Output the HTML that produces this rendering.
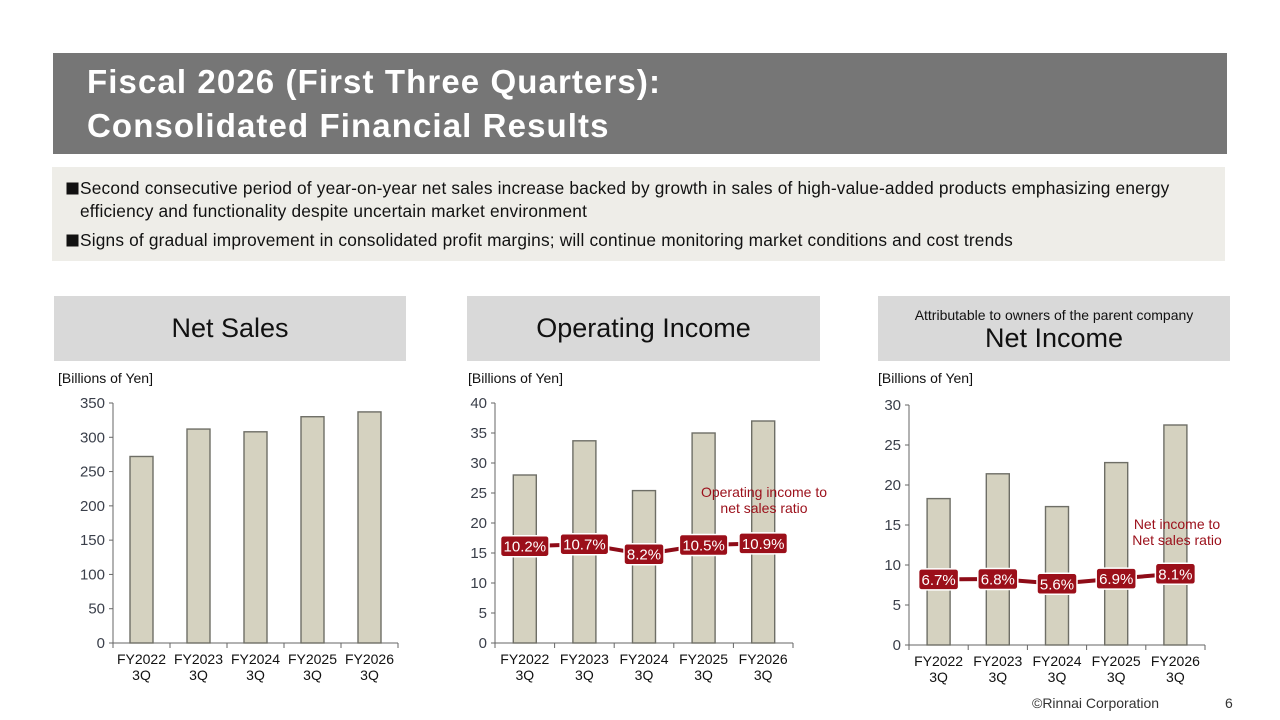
<!DOCTYPE html>
<html><head><meta charset="utf-8"><style>
body{margin:0;width:1280px;height:720px;background:#fff;font-family:"Liberation Sans",Arial,sans-serif;position:relative;overflow:hidden}
.hdr{position:absolute;left:53px;top:53px;width:1174px;height:101px;background:#767676;color:#fff;font-weight:bold;font-size:33px;letter-spacing:1.1px;line-height:44px;box-sizing:border-box;padding:7px 0 0 34px}
.sum{position:absolute;left:52px;top:167px;width:1173px;height:94px;background:#eeede8;font-size:17.3px;letter-spacing:0.18px;color:#111;box-sizing:border-box;padding:10px 20px 0 13px;line-height:23px}
.sum p{margin:0 0 6px 0;padding-left:15px;text-indent:-15px}
.sq{font-family:"Noto Sans CJK JP",sans-serif;font-size:15px;letter-spacing:0}
.tb{position:absolute;top:296px;height:65px;background:#d9d9d9;text-align:center;color:#111}
.unit{position:absolute;top:370px;font-size:14px;color:#111}
svg{position:absolute;left:0;top:0}
.foot{position:absolute;top:695px;font-size:14px;color:#333}
</style></head><body>
<div class="hdr">Fiscal 2026 (First Three Quarters):<br>Consolidated Financial Results</div>
<div class="sum">
<p><span class="sq">■</span>Second consecutive period of year-on-year net sales increase backed by growth in sales of high-value-added products emphasizing energy efficiency and functionality despite uncertain market environment</p>
<p><span class="sq">■</span>Signs of gradual improvement in consolidated profit margins; will continue monitoring market conditions and cost trends</p></div>
<div class="tb" style="left:54px;width:352px;font-size:27px;line-height:65px">Net Sales</div>
<div class="tb" style="left:467px;width:353px;font-size:27px;line-height:65px">Operating Income</div>
<div class="tb" style="left:878px;width:352px"><div style="font-size:14px;margin-top:11px">Attributable to owners of the parent company</div><div style="font-size:27px;margin-top:0px">Net Income</div></div>
<div class="unit" style="left:58px">[Billions of Yen]</div>
<div class="unit" style="left:468px">[Billions of Yen]</div>
<div class="unit" style="left:878px">[Billions of Yen]</div>
<div class="foot" style="left:1032px">©Rinnai Corporation</div>
<div class="foot" style="left:1225px">6</div>
<svg id="chart" width="1280" height="720"></svg>
<script>
const categories=["FY2022","FY2023","FY2024","FY2025","FY2026"];
const salesValues=[272,312,308,330,337];
const opIncomeValues=[28,33.7,25.4,35,37];
const opRatio=[10.2,10.7,8.2,10.5,10.9];
const netIncomeValues=[18.3,21.4,17.3,22.8,27.5];
const netRatio=[6.7,6.8,5.6,6.9,8.1];
const salesTicks=[0,50,100,150,200,250,300,350];
const opTicks=[0,5,10,15,20,25,30,35,40];
const niTicks=[0,5,10,15,20,25,30];
const NS="http://www.w3.org/2000/svg";
const svg=document.getElementById('chart');
function mk(t,a,p){const e=document.createElementNS(NS,t);for(const k in a)e.setAttribute(k,a[k]);(p||svg).appendChild(e);return e;}
function chart(cfg){
 const g=mk('g',{});
 
 
 const {x0,x1,y0,y1,max}=cfg;
 const ys=v=>y0-(v/max)*(y0-y1);
 const step=(x1-x0)/categories.length;
 const xs=i=>x0+step*(i+0.5);
 mk('line',{x1:x0,y1:y0,x2:x0,y2:y1,stroke:'#666','stroke-width':1},g);
 mk('line',{x1:x0,y1:y0,x2:x1,y2:y0,stroke:'#666','stroke-width':1},g);
 cfg.ticks.forEach(t=>{
  mk('line',{x1:x0-4,y1:ys(t),x2:x0,y2:ys(t),stroke:'#666'},g);
  const tx=mk('text',{x:x0-8,y:ys(t)+5,'text-anchor':'end','font-size':15,fill:'#3a3f4a'},g);tx.textContent=t;
  
  
 });
 for(let i=0;i<=categories.length;i++)mk('line',{x1:x0+step*i,y1:y0,x2:x0+step*i,y2:y0+5,stroke:'#666'},g);
 cfg.values.forEach((v,i)=>{
  const r=mk('rect',{x:xs(i)-11.5,y:ys(v),width:23,height:y0-ys(v),fill:'#d5d2c0',stroke:'#6e6e66','stroke-width':1.4},g);
  
  
 });
 categories.forEach((c,i)=>{
  const t=mk('text',{x:xs(i),y:y0+21,'text-anchor':'middle','font-size':14,fill:'#111'},g);t.textContent=c;
  
  
  const q=mk('text',{x:xs(i),y:y0+37,'text-anchor':'middle','font-size':14,fill:'#111'},g);q.textContent='3Q';
  
  
 });
 if(cfg.ratio){
  const rs=v=>y0-(v-cfg.rmin)/60*(y0-y1);
  const pts=cfg.ratio.map((v,i)=>xs(i)+','+rs(v)).join(' ');
  const pl=mk('polyline',{points:pts,fill:'none',stroke:'#8e0c18','stroke-width':4},g);
  
  
  cfg.ratio.forEach((v,i)=>{
   const s=v.toFixed(1)+'%';const w=s.length*8.5+6;
   const b=mk('rect',{x:xs(i)-w/2,y:rs(v)-10.5,width:w,height:21,rx:3,fill:'#9b0f1a',stroke:'#fff','stroke-width':1.5},g);
   
   
   const t=mk('text',{x:xs(i),y:rs(v)+5.5,'text-anchor':'middle','font-size':15,fill:'#fff'},g);t.textContent=s;
   
   
  });
  cfg.note.forEach((n,k)=>{
   const t=mk('text',{x:cfg.nx,y:cfg.ny+k*16,'text-anchor':'middle','font-size':14,fill:'#9b0f1a'},g);t.textContent=n;
   
   
  });
 }
}
chart({name:'net-sales-chart',x0:113,x1:398,y0:643,y1:403,max:350,ticks:salesTicks,values:salesValues});
chart({name:'operating-income-chart',x0:495,x1:793,y0:643,y1:403,max:40,ticks:opTicks,values:opIncomeValues,ratio:opRatio,rmin:-14,note:['Operating income to','net sales ratio'],nx:764,ny:497});
chart({name:'net-income-chart',x0:909,x1:1205,y0:645,y1:405,max:30,ticks:niTicks,values:netIncomeValues,ratio:netRatio,rmin:-9.7,note:['Net income to','Net sales ratio'],nx:1177,ny:529});
</script>
</body></html>
